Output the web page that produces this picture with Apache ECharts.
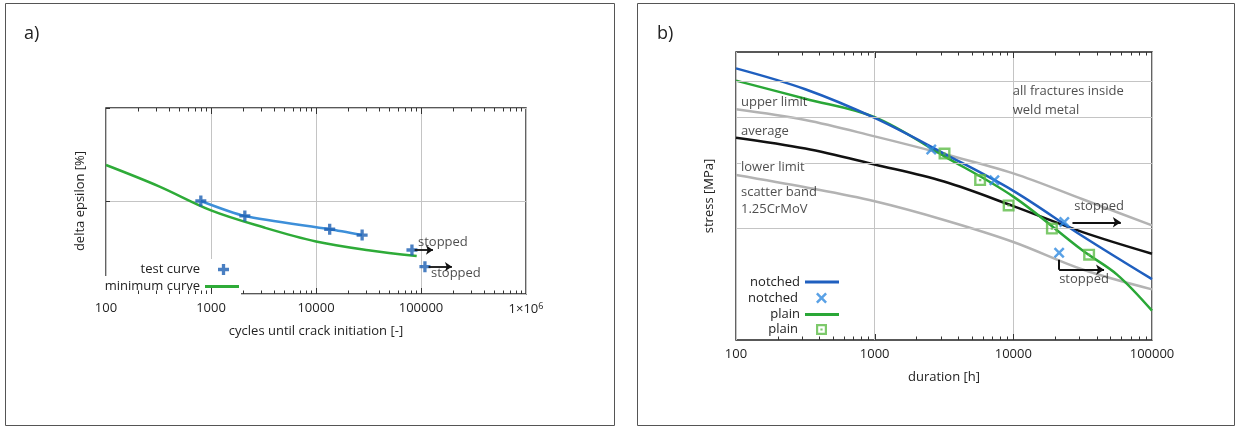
<!DOCTYPE html>
<html>
<head>
<meta charset="utf-8">
<script src="https://cdn.jsdelivr.net/npm/echarts@6/dist/echarts.min.js"></script>
<style>html,body{margin:0;padding:0;background:#fff}#c{width:1237px;height:429px}</style>
</head>
<body>
<div id="c"></div>
<script>
// ---------- panel a) ----------
const cyclesMin = [100, 316, 1000, 3162, 10000, 31600, 91000];
const epsMin    = [1.387, 1.16, 0.899, 0.717, 0.565, 0.471, 0.409];
const cyclesTest = [800, 2100, 13500, 27500];
const epsTest    = [1.0, 0.839, 0.696, 0.634];
const cyclesStopped = [82000, 109000];
const epsStopped    = [0.473, 0.294];
const arrowFromA = [87000, 118000];
const arrowToA   = [130000, 197000];
const arrowYA    = [0.473, 0.294];
const labelStoppedXA = [93600, 124500];
const labelStoppedYA = [0.559, 0.226];
const xTicksMajorA = [1000, 10000, 100000];
const xTicksMinorA = [200,300,400,500,600,700,800,900,2000,3000,4000,5000,6000,7000,8000,9000,
  20000,30000,40000,50000,60000,70000,80000,90000,200000,300000,400000,500000,600000,700000,800000,900000];

// ---------- panel b) ----------
const durNotched    = [100, 316, 1000, 3162, 10000, 31623, 100000];
const stressNotched = [542, 476, 398, 319, 253, 190.7, 146];
const durPlain      = [100, 316, 1000, 3162, 10000, 31623, 56234, 100000];
const stressPlain   = [502, 448.6, 400, 314, 244, 174.4, 150, 120];
const durNotchedPts    = [2560, 7300, 23300, 21400];
const stressNotchedPts = [327, 270, 208.5, 172];
const durPlainPts    = [3190, 5760, 9250, 18970, 35200];
const stressPlainPts = [319, 270.4, 231, 200, 170];
const durUpper    = [100, 316, 1000, 3162, 10000, 31623, 100000];
const stressUpper = [420, 393, 355, 318, 282, 240, 204];
const durAvg      = [100, 316, 1000, 3162, 10000, 31623, 100000];
const stressAvg   = [352, 329, 298, 268, 230, 195.6, 171];
const durLower    = [100, 316, 1000, 3162, 10000, 31623, 100000];
const stressLower = [279, 258.5, 237, 211, 184, 155, 137];
const stressGrid  = [200, 300, 400, 500];
const arrowB1 = [[26700, 208], [59600, 208]];
const connectorB2 = [[21400, 164.8], [21400, 154.8]];
const arrowB2 = [[21400, 154.8], [45100, 154.8]];
const annotTextB = ['upper limit', 'average', 'lower limit', 'scatter band', '1.25CrMoV', 'all fractures inside', 'weld metal', 'stopped', 'stopped'];
const annotXB    = [108.6, 108.6, 108.6, 108.6, 108.6, 9900, 9900, 27500, 21400];
const annotYB    = [439, 367, 293, 250, 225, 471, 418, 229.9, 145.5];
const xTicksMajorB = [1000, 10000];
const xTicksMinorB = [200,300,400,500,600,700,800,900,2000,3000,4000,5000,6000,7000,8000,9000,
  20000,30000,40000,50000,60000,70000,80000,90000];

const zip = (a, b) => a.map((v, i) => [v, b[i]]);
const FONT = '"Open Sans", "Noto Sans", sans-serif';
const TXT = '#222';
const plusPath = 'path://M3.5,0H6.5V3.5H10V6.5H6.5V10H3.5V6.5H0V3.5H3.5Z';
const xPath = 'path://M0,1.6L1.6,0L5,3.4L8.4,0L10,1.6L6.6,5L10,8.4L8.4,10L5,6.6L1.6,10L0,8.4L3.4,5Z';
const sqPath = 'path://M0,0H10V10H0Z M2,2V8H8V2Z M4,4H6V6H4Z';
const SMOOTH = 0.35;

function tickSeries(idx, yRef, major, minor) {
  return {
    type: 'custom', xAxisIndex: idx, yAxisIndex: idx, silent: true, z: 6,
    data: major.map(v => [v, yRef, 6]).concat(minor.map(v => [v, yRef, 3.5])),
    renderItem(params, api) {
      const cs = params.coordSys;
      const px = Math.round(api.coord([api.value(0), api.value(1)])[0]) + 0.5;
      const len = api.value(2);
      const b = cs.y + cs.height, t = cs.y;
      return { type: 'group', children: [
        { type: 'line', shape: { x1: px, y1: b, x2: px, y2: b - len }, style: { stroke: '#333', lineWidth: 1 } },
        { type: 'line', shape: { x1: px, y1: t, x2: px, y2: t + len }, style: { stroke: '#333', lineWidth: 1 } }
      ]};
    }
  };
}

function legendLine(name, right, top, pad, bg) {
  return {
    data: [name], orient: 'vertical', align: 'right', right: right, top: top,
    icon: 'rect', itemWidth: 34, itemHeight: 3, padding: pad, backgroundColor: bg || 'transparent',
    selectedMode: false,
    formatter: n => n.replace(/\u200b/g, ''),
    textStyle: { fontFamily: FONT, fontSize: 13, color: TXT }
  };
}
function legendMark(name, right, top, pad, bg) {
  return {
    data: [name], orient: 'vertical', align: 'right', right: right, top: top,
    itemWidth: 11, itemHeight: 11, padding: pad, backgroundColor: bg || 'transparent',
    selectedMode: false,
    formatter: n => '{t|' + n.replace(/\u200b/g, '') + '}',
    textStyle: { fontFamily: FONT, fontSize: 13, color: TXT,
      rich: { t: { fontFamily: FONT, fontSize: 13, color: TXT, padding: [0, 13, 0, 0] } } }
  };
}

const axisLabelStyle = { fontFamily: FONT, fontSize: 13, color: TXT };
const nameStyle = { fontFamily: FONT, fontSize: 13, color: TXT };

const option = {
  animation: false,
  textStyle: { fontFamily: FONT },
  graphic: [
    { type: 'rect', silent: true, shape: { x: 5.5, y: 3.5, width: 609, height: 422 }, style: { fill: 'none', stroke: '#555', lineWidth: 1 } },
    { type: 'rect', silent: true, shape: { x: 637.5, y: 3.5, width: 597, height: 422 }, style: { fill: 'none', stroke: '#555', lineWidth: 1 } },
    { type: 'text', left: 24, top: 25, style: { text: 'a)', font: '18px "Open Sans"', fill: TXT } },
    { type: 'text', left: 657, top: 25, style: { text: 'b)', font: '18px "Open Sans"', fill: TXT } }
  ],
  grid: [
    { left: 106, top: 108, width: 420, height: 186, show: true, borderColor: '#222', borderWidth: 1.4, backgroundColor: 'transparent' },
    { left: 736, top: 52, width: 416, height: 288, show: true, borderColor: '#222', borderWidth: 1.4, backgroundColor: 'transparent' }
  ],
  xAxis: [
    {
      type: 'log', gridIndex: 0, min: 100, max: 1000000, logBase: 10,
      axisLine: { show: false }, axisTick: { show: false },
      splitLine: { show: true, lineStyle: { color: '#c4c4c4', width: 1 } },
      axisLabel: Object.assign({}, axisLabelStyle, {
        margin: 8, showMinLabel: true, showMaxLabel: true,
        formatter: v => v >= 999999 ? '1×10{s|6}' : String(Math.round(v)),
        rich: { s: { fontFamily: FONT, fontSize: 9, color: TXT, verticalAlign: 'top', padding: [0, 0, 6, 0] } }
      }),
      name: 'cycles until crack initiation [-]', nameLocation: 'middle', nameGap: 31, nameTextStyle: nameStyle
    },
    {
      type: 'log', gridIndex: 1, min: 100, max: 100000, logBase: 10,
      axisLine: { show: false }, axisTick: { show: false },
      splitLine: { show: true, lineStyle: { color: '#c4c4c4', width: 1 } },
      axisLabel: Object.assign({}, axisLabelStyle, { margin: 8, showMinLabel: true, showMaxLabel: true, formatter: v => String(Math.round(v)) }),
      name: 'duration [h]', nameLocation: 'middle', nameGap: 31, nameTextStyle: nameStyle
    }
  ],
  yAxis: [
    {
      type: 'value', gridIndex: 0, min: 0, max: 2, interval: 1,
      axisLine: { show: false }, axisLabel: { show: false },
      axisTick: { show: true, inside: true, length: 4, lineStyle: { color: '#333' } },
      splitLine: { show: true, lineStyle: { color: '#c4c4c4', width: 1 } },
      name: 'delta epsilon [%]', nameLocation: 'middle', nameGap: 19, nameTextStyle: nameStyle
    },
    {
      type: 'log', gridIndex: 1, min: 100, max: 600, logBase: 10,
      axisLine: { show: false }, axisLabel: { show: false }, axisTick: { show: false },
      splitLine: { show: false },
      name: 'stress [MPa]', nameLocation: 'middle', nameGap: 20, nameTextStyle: nameStyle
    }
  ],
  legend: [
    legendMark('test curve', 1006, 259, [4, 2, 4, 2], '#fff'),
    legendLine('minimum curve', 996, 276, [4, 2, 4, 2], '#fff'),
    legendLine('notched', 398, 275.5, 0),
    legendMark('notched\u200b', 410, 291.5, 0),
    legendLine('plain', 398, 308, 0),
    legendMark('plain\u200b', 410, 323, 0)
  ],
  series: [
    // ----- a) -----
    { name: 'minimum curve', type: 'line', xAxisIndex: 0, yAxisIndex: 0, data: zip(cyclesMin, epsMin),
      smooth: SMOOTH, symbol: 'none', z: 3,
      lineStyle: { color: '#2eab38', width: 2.5 }, itemStyle: { color: '#2eab38' } },
    { name: 'test line', type: 'line', xAxisIndex: 0, yAxisIndex: 0, data: zip(cyclesTest, epsTest),
      smooth: 0.25, symbol: 'none', z: 3,
      lineStyle: { color: '#3d8fd9', width: 2.5 }, itemStyle: { color: '#3d8fd9' } },
    { name: 'test curve', type: 'scatter', xAxisIndex: 0, yAxisIndex: 0, data: zip(cyclesTest, epsTest),
      symbol: plusPath, symbolSize: 11, z: 4, itemStyle: { color: '#1c5fb3' } },
    { name: 'test stopped', type: 'scatter', xAxisIndex: 0, yAxisIndex: 0, data: zip(cyclesStopped, epsStopped),
      symbol: plusPath, symbolSize: 11, z: 4, itemStyle: { color: '#1c5fb3' } },
    { name: 'arrows a', type: 'lines', coordinateSystem: 'cartesian2d', xAxisIndex: 0, yAxisIndex: 0, z: 5,
      symbol: ['none', 'arrow'], symbolSize: 7,
      lineStyle: { color: '#111', width: 1.8, opacity: 1 },
      data: arrowFromA.map((v, i) => ({ coords: [[v, arrowYA[i]], [arrowToA[i], arrowYA[i]]] })) },
    { name: 'labels a', type: 'scatter', xAxisIndex: 0, yAxisIndex: 0, symbolSize: 0, z: 6, silent: true,
      data: labelStoppedXA.map((v, i) => ({ value: [v, labelStoppedYA[i]], name: 'stopped' })),
      label: { show: true, position: 'right', distance: 0, formatter: '{b}', fontFamily: FONT, fontSize: 13, color: TXT } },
    tickSeries(0, 1, xTicksMajorA, xTicksMinorA),

    // ----- b) -----
    { name: 'upper limit', type: 'line', xAxisIndex: 1, yAxisIndex: 1, data: zip(durUpper, stressUpper),
      smooth: SMOOTH, symbol: 'none', z: 2,
      lineStyle: { color: '#b3b3b3', width: 2.5 },
      markLine: { silent: true, symbol: ['none', 'none'], label: { show: false }, animation: false,
        lineStyle: { color: '#c4c4c4', type: 'solid', width: 1 },
        data: stressGrid.map(v => ({ yAxis: v })) } },
    { name: 'lower limit', type: 'line', xAxisIndex: 1, yAxisIndex: 1, data: zip(durLower, stressLower),
      smooth: SMOOTH, symbol: 'none', z: 2,
      lineStyle: { color: '#b3b3b3', width: 2.5 } },
    { name: 'average', type: 'line', xAxisIndex: 1, yAxisIndex: 1, data: zip(durAvg, stressAvg),
      smooth: SMOOTH, symbol: 'none', z: 3,
      lineStyle: { color: '#111', width: 2.5 } },
    { name: 'plain', type: 'line', xAxisIndex: 1, yAxisIndex: 1, data: zip(durPlain, stressPlain),
      smooth: SMOOTH, symbol: 'none', z: 4,
      lineStyle: { color: '#2aa737', width: 2.5 }, itemStyle: { color: '#2aa737' } },
    { name: 'notched', type: 'line', xAxisIndex: 1, yAxisIndex: 1, data: zip(durNotched, stressNotched),
      smooth: SMOOTH, symbol: 'none', z: 4,
      lineStyle: { color: '#1f5fbf', width: 2.5 }, itemStyle: { color: '#1f5fbf' } },
    { name: 'notched\u200b', type: 'scatter', xAxisIndex: 1, yAxisIndex: 1, data: zip(durNotchedPts, stressNotchedPts),
      symbol: xPath, symbolSize: 11, z: 5, itemStyle: { color: '#2f8ae0' } },
    { name: 'plain\u200b', type: 'scatter', xAxisIndex: 1, yAxisIndex: 1, data: zip(durPlainPts, stressPlainPts),
      symbol: sqPath, symbolSize: 12, z: 5, itemStyle: { color: '#5dbb46' } },
    { name: 'connector b', type: 'lines', coordinateSystem: 'cartesian2d', xAxisIndex: 1, yAxisIndex: 1, z: 6,
      symbol: ['none', 'none'],
      lineStyle: { color: '#111', width: 2, opacity: 1 },
      data: [{ coords: connectorB2 }] },
    { name: 'arrows b', type: 'lines', coordinateSystem: 'cartesian2d', xAxisIndex: 1, yAxisIndex: 1, z: 6,
      symbol: ['none', 'arrow'], symbolSize: 8,
      lineStyle: { color: '#111', width: 2, opacity: 1 },
      data: [{ coords: arrowB1 }, { coords: arrowB2 }] },
    { name: 'labels b', type: 'scatter', xAxisIndex: 1, yAxisIndex: 1, symbolSize: 0, z: 7, silent: true,
      data: annotTextB.map((t, i) => {
        const d = { value: [annotXB[i], annotYB[i]], name: t };
        if (t === 'lower limit') d.label = { backgroundColor: '#fff' };
        return d;
      }),
      label: { show: true, position: 'right', distance: 0, formatter: '{b}', fontFamily: FONT, fontSize: 13, color: TXT } },
    tickSeries(1, 200, xTicksMajorB, xTicksMinorB)
  ]
};

const chart = echarts.init(document.getElementById('c'));
chart.setOption(option);
</script>
</body>
</html>
